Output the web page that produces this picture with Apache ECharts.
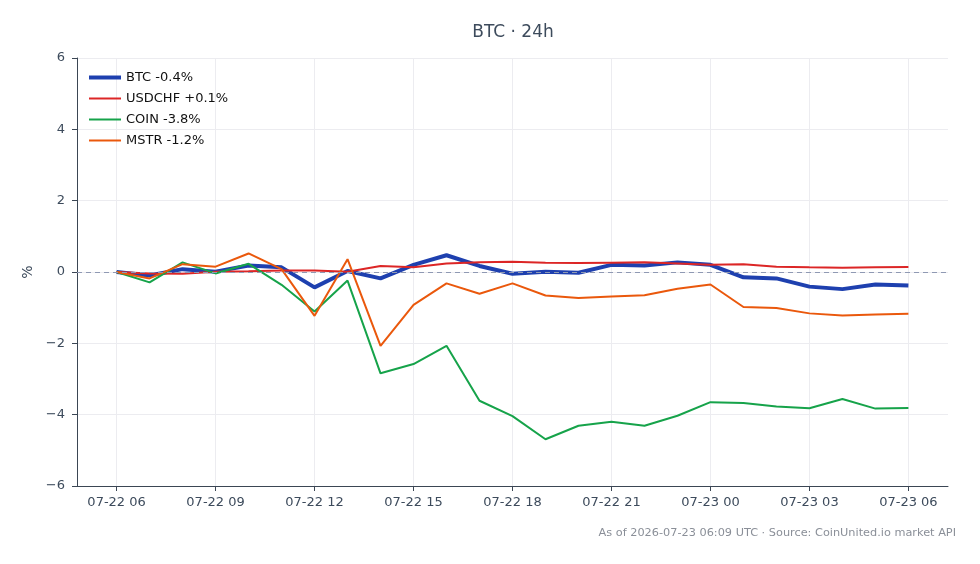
<!DOCTYPE html>
<html lang="en">
<head>
    <meta charset="UTF-8">
    <title>BTC · 24h</title>
    <script src="https://cdn.jsdelivr.net/npm/echarts@6/dist/echarts.min.js"></script>
    <style>
        html, body { margin: 0; padding: 0; background: #fff; }
        #main { width: 980px; height: 564px; }
    </style>
</head>
<body>
<div id="main"></div>

<script>
    // hourly points, 07-22 06 -> 07-23 06 (UTC)
    var hours = ['07-22 06', '07-22 07', '07-22 08', '07-22 09', '07-22 10', '07-22 11', '07-22 12',
        '07-22 13', '07-22 14', '07-22 15', '07-22 16', '07-22 17', '07-22 18', '07-22 19',
        '07-22 20', '07-22 21', '07-22 22', '07-22 23', '07-23 00', '07-23 01', '07-23 02',
        '07-23 03', '07-23 04', '07-23 05', '07-23 06'];
    var tickHours = [0, 3, 6, 9, 12, 15, 18, 21, 24];

    // % change vs. start
    var btc = [0, -0.1, 0.08, 0.01, 0.18, 0.13, -0.43, 0.03, -0.18, 0.2, 0.47, 0.17, -0.05,
        0.01, -0.02, 0.2, 0.18, 0.27, 0.2, -0.15, -0.18, -0.41, -0.48, -0.35, -0.38];
    var usdchf = [0, -0.04, -0.05, 0.01, 0.02, 0.04, 0.04, 0.01, 0.17, 0.13, 0.24, 0.27, 0.29,
        0.26, 0.25, 0.26, 0.27, 0.24, 0.2, 0.22, 0.15, 0.13, 0.12, 0.13, 0.14];
    var coin = [0, -0.29, 0.27, -0.04, 0.23, -0.36, -1.11, -0.24, -2.84, -2.58, -2.07, -3.61, -4.04,
        -4.69, -4.31, -4.2, -4.31, -4.03, -3.65, -3.67, -3.77, -3.82, -3.56, -3.83, -3.81];
    var mstr = [0, -0.18, 0.22, 0.15, 0.52, 0.08, -1.23, 0.36, -2.07, -0.92, -0.32, -0.61, -0.32,
        -0.66, -0.73, -0.69, -0.65, -0.47, -0.35, -0.98, -1.01, -1.16, -1.22, -1.19, -1.17];

    var names = ['BTC -0.4%', 'USDCHF +0.1%', 'COIN -3.8%', 'MSTR -1.2%'];
    var colors = ['#1e40af', '#dc2626', '#16a34a', '#ea580c'];
    var widths = [4, 2, 2, 2];

    function pairs(arr) {
        return arr.map(function (v, i) { return [i, v]; });
    }

    function line(idx, arr) {
        return {
            name: names[idx], type: 'line', data: pairs(arr),
            showSymbol: false, symbol: 'none',
            lineStyle: {width: widths[idx], color: colors[idx]},
            itemStyle: {color: colors[idx]}
        };
    }

    var font = 'DejaVu Sans';
    var ink = '#3d4b5c';
    var axisInk = '#3b4654';

    var myChart = echarts.init(document.getElementById('main'));

    var btcSeries = line(0, btc);
    // dashed zero reference
    btcSeries.markLine = {
        silent: true, symbol: 'none', label: {show: false},
        lineStyle: {type: [5, 4], color: '#8f99b3', width: 1},
        data: [{yAxis: 0}]
    };

    var option = {
        backgroundColor: '#fff',
        animation: false,
        textStyle: {fontFamily: font},
        title: {
            text: 'BTC · 24h',
            left: 508,
            textAlign: 'center',
            top: 19,
            textStyle: {fontFamily: font, fontSize: 17, fontWeight: 'normal', color: ink}
        },
        graphic: [{
            type: 'text',
            right: 24,
            top: 528,
            style: {
                text: 'As of 2026-07-23 06:09 UTC · Source: CoinUnited.io market API',
                font: '11.3px "DejaVu Sans"',
                fill: '#8a8f98'
            }
        }],
        legend: {
            orient: 'vertical',
            left: 82,
            top: 66,
            itemWidth: 32,
            itemHeight: 12,
            itemGap: 8,
            itemStyle: {opacity: 0},
            textStyle: {fontFamily: font, fontSize: 13, color: '#111'},
            data: names.map(function (n, i) {
                return {name: n, lineStyle: {width: widths[i], color: colors[i]}};
            })
        },
        grid: {left: 77, right: 32, top: 58, bottom: 78},
        xAxis: {
            type: 'value',
            min: -1.2,
            max: 25.2,
            axisLine: {show: true, onZero: false, lineStyle: {color: axisInk, width: 1}},
            axisTick: {show: true, customValues: tickHours, length: 5, lineStyle: {color: axisInk}},
            axisLabel: {
                customValues: tickHours,
                color: ink,
                fontSize: 13,
                margin: 10,
                formatter: function (v) { return hours[Math.round(v)]; }
            },
            splitLine: {show: true, lineStyle: {color: '#ececf0', width: 1}}
        },
        yAxis: {
            type: 'value',
            min: -6,
            max: 6,
            interval: 2,
            name: '%',
            nameLocation: 'middle',
            nameRotate: 90,
            nameGap: 40,
            nameTextStyle: {fontFamily: font, fontSize: 14, color: ink},
            axisLine: {show: true, onZero: false, lineStyle: {color: axisInk, width: 1}},
            axisTick: {show: true, length: 5, lineStyle: {color: axisInk}},
            axisLabel: {
                color: ink,
                fontSize: 13,
                margin: 12,
                formatter: function (v) { return v < 0 ? '\u2212' + Math.abs(v) : String(v); }
            },
            splitLine: {show: true, lineStyle: {color: '#ececf0', width: 1}}
        },
        series: [
            btcSeries,
            line(1, usdchf),
            line(2, coin),
            line(3, mstr)
        ]
    };

    myChart.setOption(option);
</script>
</body>
</html>
